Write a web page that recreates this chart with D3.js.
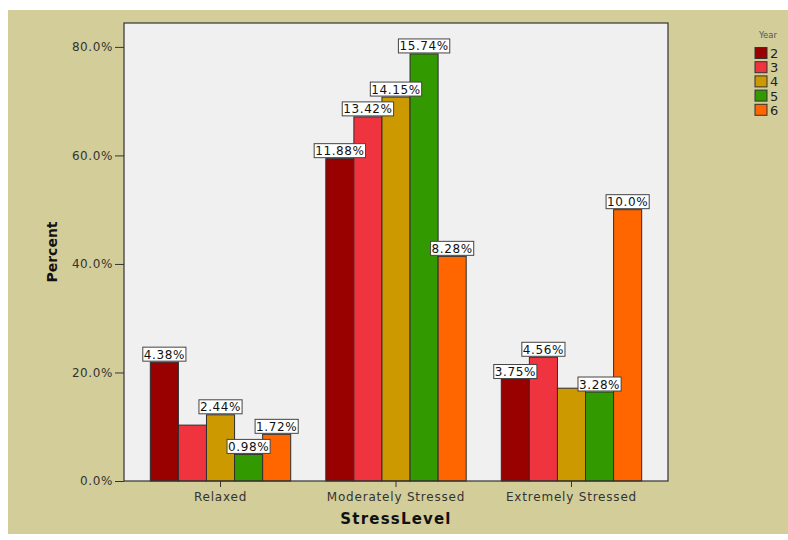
<!DOCTYPE html>
<html>
<head>
<meta charset="utf-8">
<script src="https://cdn.jsdelivr.net/npm/d3@7"></script>
<style>
  html, body { margin: 0; padding: 0; background: #ffffff; }
  svg { display: block; }
  text { font-family: "DejaVu Sans", sans-serif; }
</style>
</head>
<body>
<svg id="chart" width="788" height="540"></svg>
<script>
// ---- Data (percent within each Year) ----
const categories = ["Relaxed", "Moderately Stressed", "Extremely Stressed"];
const years = ["2", "3", "4", "5", "6"];
const year2 = [21.9, 59.4, 18.7];
const year3 = [10.3, 67.1, 22.8];
const year4 = [12.2, 70.75, 17.1];
const year5 = [4.9, 78.7, 16.4];
const year6 = [8.6, 41.4, 50.0];
const year2Labels = ["4.38%", "11.88%", "3.75%"];
const year3Labels = [null, "13.42%", "4.56%"];
const year4Labels = ["2.44%", "14.15%", null];
const year5Labels = ["0.98%", "15.74%", "3.28%"];
const year6Labels = ["1.72%", "8.28%", "10.0%"];
const yTicks = [0, 20, 40, 60, 80];
const colors = ["#990000", "#F0343F", "#CC9900", "#339900", "#FF6600"];

const seriesValues = [year2, year3, year4, year5, year6];
const seriesLabels = [year2Labels, year3Labels, year4Labels, year5Labels, year6Labels];

const svg = d3.select("#chart");
const W = 788, H = 540;
const plot = { left: 124, top: 23, right: 668, bottom: 481 };

// background
svg.append("rect").attr("x", 8).attr("y", 10).attr("width", W - 8).attr("height", 524).attr("fill", "#D3CE99");
svg.append("rect").attr("x", plot.left).attr("y", plot.top)
  .attr("width", plot.right - plot.left).attr("height", plot.bottom - plot.top)
  .attr("fill", "#F0F0F0");

const x0 = d3.scaleBand().domain(categories).range([plot.left, plot.right])
  .paddingInner(0.2).paddingOuter(0.15);
const x1 = d3.scaleBand().domain(years).range([0, x0.bandwidth()]).padding(0);
const y = d3.scaleLinear().domain([0, 84.4]).range([plot.bottom, plot.top]);

const rows = [];
categories.forEach((c, ci) => {
  years.forEach((yr, si) => {
    rows.push({ cat: c, year: yr, si, value: seriesValues[si][ci], label: seriesLabels[si][ci] });
  });
});

// bars
svg.append("g").selectAll("rect").data(rows).join("rect")
  .attr("x", d => x0(d.cat) + x1(d.year))
  .attr("y", d => y(d.value))
  .attr("width", x1.bandwidth())
  .attr("height", d => y(0) - y(d.value))
  .attr("fill", d => colors[d.si])
  .attr("stroke", "#2e2e2e")
  .attr("stroke-width", 1);

// plot border
svg.append("rect").attr("x", plot.left).attr("y", plot.top)
  .attr("width", plot.right - plot.left).attr("height", plot.bottom - plot.top)
  .attr("fill", "none").attr("stroke", "#333").attr("stroke-width", 1.2);

// y axis
const yAxis = svg.append("g").attr("transform", `translate(${plot.left},0)`)
  .call(d3.axisLeft(y).tickValues(yTicks).tickFormat(d => d.toFixed(1) + "%").tickSize(9).tickPadding(2));
yAxis.select(".domain").remove();
yAxis.selectAll("line").attr("stroke", "#333");
yAxis.selectAll("text").attr("font-size", "12px").attr("fill", "#333")
  .attr("font-family", "DejaVu Sans").style("letter-spacing", "0.6px");

// x axis
const xAxis = svg.append("g").attr("transform", `translate(0,${plot.bottom})`)
  .call(d3.axisBottom(x0).tickSize(6).tickPadding(5));
xAxis.select(".domain").remove();
xAxis.selectAll("line").attr("stroke", "#333");
xAxis.selectAll("text").attr("font-size", "12px").attr("fill", "#333")
  .attr("font-family", "DejaVu Sans").style("letter-spacing", "0.8px");

// axis titles
svg.append("text").attr("x", (plot.left + plot.right) / 2).attr("y", 524)
  .attr("text-anchor", "middle").attr("font-weight", "bold").attr("font-size", "15px")
  .style("letter-spacing", "1.2px").attr("fill", "#111").text("StressLevel");
svg.append("text").attr("transform", `translate(57,${(plot.top + plot.bottom) / 2}) rotate(-90)`)
  .attr("text-anchor", "middle").attr("font-weight", "bold").attr("font-size", "14px")
  .attr("fill", "#111").text("Percent");

// value labels
const lab = svg.append("g").selectAll("g").data(rows.filter(d => d.label)).join("g")
  .attr("transform", d => `translate(${x0(d.cat) + x1(d.year) + x1.bandwidth() / 2},${y(d.value) - 1})`);
lab.append("text").attr("text-anchor", "middle").attr("y", -2.5)
  .attr("font-size", "12px").attr("fill", "#111").style("letter-spacing", "0.6px")
  .text(d => d.label);
lab.each(function() {
  const g = d3.select(this);
  const bb = g.select("text").node().getBBox();
  g.insert("rect", "text").attr("x", bb.x - 1).attr("y", -14).attr("width", bb.width + 2).attr("height", 14)
    .attr("fill", "#ffffff").attr("stroke", "#444").attr("stroke-width", 1);
});

// legend
svg.append("text").attr("x", 768).attr("y", 38).attr("text-anchor", "middle")
  .attr("font-size", "8.5px").attr("fill", "#555").text("Year");
const leg = svg.append("g").selectAll("g").data(years).join("g")
  .attr("transform", (d, i) => `translate(755,${47.5 + i * 14.2})`);
leg.append("rect").attr("width", 12).attr("height", 11)
  .attr("fill", (d, i) => colors[i]).attr("stroke", "#333").attr("stroke-width", 1);
leg.append("text").attr("x", 15).attr("y", 10.5).attr("font-size", "13px").attr("fill", "#222").text(d => d);
</script>
</body>
</html>
